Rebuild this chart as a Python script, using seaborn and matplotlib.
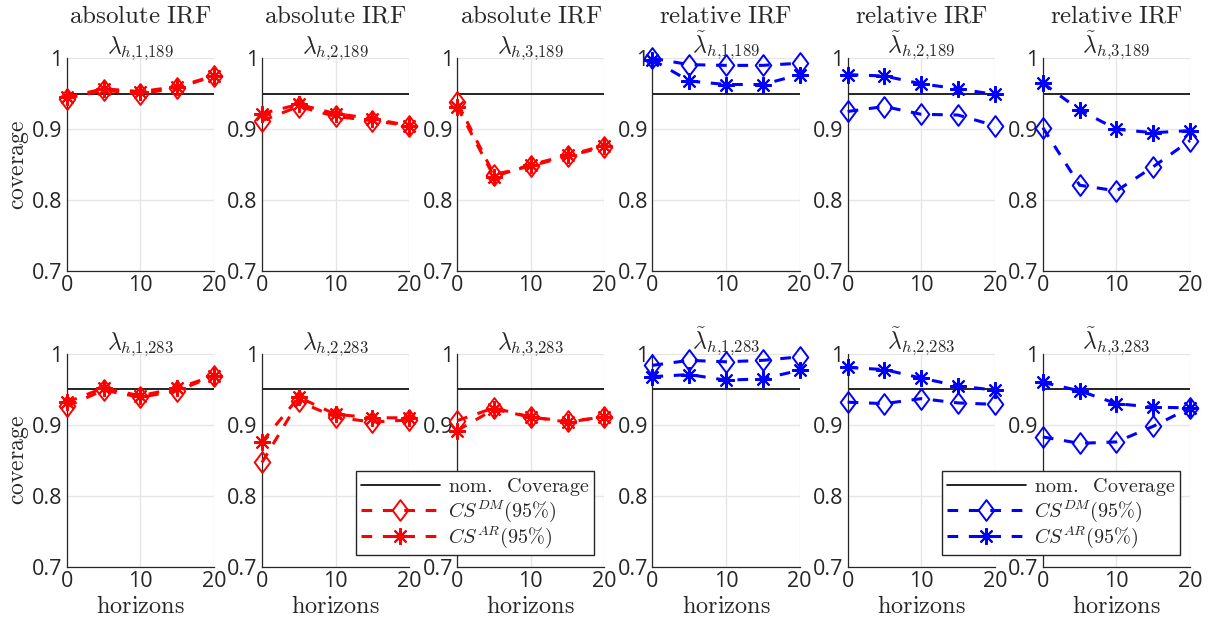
import matplotlib
matplotlib.use("Agg")
import matplotlib.pyplot as plt
from matplotlib.lines import Line2D
from matplotlib.path import Path
import seaborn as sns

# Forecast horizons and nominal coverage level
horizons = [0, 5, 10, 15, 20]
nominal = 0.95

# Coverage of the absolute IRF confidence sets, T = 189
abs_1_189_dm = [0.943, 0.955, 0.950, 0.958, 0.975]
abs_1_189_ar = [0.945, 0.957, 0.953, 0.960, 0.975]
abs_2_189_dm = [0.912, 0.932, 0.918, 0.912, 0.905]
abs_2_189_ar = [0.922, 0.935, 0.922, 0.915, 0.905]
abs_3_189_dm = [0.938, 0.836, 0.848, 0.862, 0.875]
abs_3_189_ar = [0.932, 0.833, 0.850, 0.863, 0.877]

# Coverage of the relative IRF confidence sets, T = 189
rel_1_189_dm = [1.000, 0.991, 0.990, 0.990, 0.993]
rel_1_189_ar = [0.998, 0.968, 0.963, 0.963, 0.977]
rel_2_189_dm = [0.925, 0.932, 0.921, 0.920, 0.905]
rel_2_189_ar = [0.977, 0.975, 0.964, 0.957, 0.949]
rel_3_189_dm = [0.902, 0.821, 0.813, 0.847, 0.884]
rel_3_189_ar = [0.965, 0.927, 0.900, 0.895, 0.898]

# Coverage of the absolute IRF confidence sets, T = 283
abs_1_283_dm = [0.926, 0.949, 0.939, 0.948, 0.969]
abs_1_283_ar = [0.932, 0.952, 0.941, 0.952, 0.969]
abs_2_283_dm = [0.847, 0.933, 0.911, 0.904, 0.907]
abs_2_283_ar = [0.876, 0.939, 0.915, 0.910, 0.910]
abs_3_283_dm = [0.906, 0.924, 0.911, 0.905, 0.911]
abs_3_283_ar = [0.892, 0.922, 0.911, 0.904, 0.911]

# Coverage of the relative IRF confidence sets, T = 283
rel_1_283_dm = [0.984, 0.991, 0.989, 0.991, 0.996]
rel_1_283_ar = [0.968, 0.971, 0.963, 0.965, 0.977]
rel_2_283_dm = [0.932, 0.930, 0.937, 0.931, 0.929]
rel_2_283_ar = [0.981, 0.978, 0.966, 0.955, 0.949]
rel_3_283_dm = [0.883, 0.874, 0.876, 0.898, 0.924]
rel_3_283_ar = [0.960, 0.948, 0.930, 0.925, 0.924]

row_titles = ["absolute IRF"] * 3 + ["relative IRF"] * 3
subtitles = [
    [r"$\lambda_{h{,}1{,}189}$", r"$\lambda_{h{,}2{,}189}$", r"$\lambda_{h{,}3{,}189}$",
     r"$\tilde{\lambda}_{h{,}1{,}189}$", r"$\tilde{\lambda}_{h{,}2{,}189}$",
     r"$\tilde{\lambda}_{h{,}3{,}189}$"],
    [r"$\lambda_{h{,}1{,}283}$", r"$\lambda_{h{,}2{,}283}$", r"$\lambda_{h{,}3{,}283}$",
     r"$\tilde{\lambda}_{h{,}1{,}283}$", r"$\tilde{\lambda}_{h{,}2{,}283}$",
     r"$\tilde{\lambda}_{h{,}3{,}283}$"],
]
series = [
    [(abs_1_189_dm, abs_1_189_ar), (abs_2_189_dm, abs_2_189_ar), (abs_3_189_dm, abs_3_189_ar),
     (rel_1_189_dm, rel_1_189_ar), (rel_2_189_dm, rel_2_189_ar), (rel_3_189_dm, rel_3_189_ar)],
    [(abs_1_283_dm, abs_1_283_ar), (abs_2_283_dm, abs_2_283_ar), (abs_3_283_dm, abs_3_283_ar),
     (rel_1_283_dm, rel_1_283_ar), (rel_2_283_dm, rel_2_283_ar), (rel_3_283_dm, rel_3_283_ar)],
]
legend_labels = [r"$\mathrm{nom.\ \ Coverage}$", r"$CS^{DM}(95\%)$", r"$CS^{AR}(95\%)$"]

sns.set_style("white")
plt.rcParams["font.family"] = ["Open Sans", "DejaVu Sans"]
plt.rcParams["mathtext.fontset"] = "cm"

INK = "#262626"
RED = "#ff0000"
BLUE = "#0000ff"

# tall open diamond and eight-armed asterisk markers
diamond = Path([(0, 1), (0.75, 0), (0, -1), (-0.75, 0), (0, 1)],
               [Path.MOVETO, Path.LINETO, Path.LINETO, Path.LINETO, Path.CLOSEPOLY])
asterisk = (8, 2, 0)
dash = (0, (3.5, 3.5))

dm_style = dict(marker=diamond, markersize=15, markerfacecolor="none", markeredgewidth=1.4)
ar_style = dict(marker=asterisk, markersize=12, markeredgewidth=1.5)

fig = plt.figure(figsize=(12.18, 6.24), dpi=100)
axes = fig.subplots(2, 6)
fig.subplots_adjust(left=0.0548, right=0.977, top=0.9066, bottom=0.0918,
                    wspace=0.327, hspace=0.39)

for r in range(2):
    for c in range(6):
        ax = axes[r, c]
        color = RED if c < 3 else BLUE
        dm, ar = series[r][c]
        ax.axhline(nominal, color="black", linewidth=1.2, zorder=2)
        sns.lineplot(x=horizons, y=dm, ax=ax, color=color, linewidth=2.2, linestyle=dash,
                     markeredgecolor=color, clip_on=False, estimator=None, sort=False,
                     legend=False, zorder=3, **dm_style)
        sns.lineplot(x=horizons, y=ar, ax=ax, color=color, linewidth=2.2, linestyle=dash,
                     markeredgecolor=color, clip_on=False, estimator=None, sort=False,
                     legend=False, zorder=4, **ar_style)
        ax.set_xlim(0, 20)
        ax.set_ylim(0.7, 1.0)
        ax.set_xticks([0, 10, 20])
        ax.set_yticks([0.7, 0.8, 0.9, 1.0])
        ax.set_yticklabels(["0.7", "0.8", "0.9", "1"])
        ax.grid(True, color="#e6e6e6", linewidth=1.0)
        ax.set_axisbelow(True)
        for side in ("top", "right"):
            ax.spines[side].set_visible(False)
        for side in ("left", "bottom"):
            ax.spines[side].set_color(INK)
            ax.spines[side].set_linewidth(0.9)
        ax.tick_params(direction="in", length=3, width=0.8, color=INK, labelcolor=INK,
                       labelsize=15.5, pad=3)
        ax.set_title(subtitles[r][c], fontsize=17, color=INK, pad=4)
        if r == 0:
            ax.annotate(r"$\mathrm{" + row_titles[c].replace(" ", r"\ ") + "}$",
                        xy=(0.5, 1.0), xycoords="axes fraction",
                        xytext=(0, 26), textcoords="offset points",
                        ha="center", va="baseline", fontsize=18, color=INK)
        if c == 0:
            ax.set_ylabel(r"$\mathrm{coverage}$", fontsize=17, color=INK, labelpad=1)
        else:
            ax.set_ylabel("")
        if r == 1:
            ax.set_xlabel(r"$\mathrm{horizons}$", fontsize=17.5, color=INK, labelpad=2)
        else:
            ax.set_xlabel("")

# legends drawn over the neighbouring panels
for color, anchor_x in ((RED, 594 / 1218), (BLUE, 1180 / 1218)):
    handles = [
        Line2D([], [], color="black", linewidth=1.2),
        Line2D([], [], color=color, linewidth=2.2, linestyle=dash,
               markeredgecolor=color, **dm_style),
        Line2D([], [], color=color, linewidth=2.2, linestyle=dash,
               markeredgecolor=color, **ar_style),
    ]
    leg = fig.legend(handles, legend_labels, loc="lower right",
                     bbox_to_anchor=(anchor_x, 1 - 555 / 624),
                     bbox_transform=fig.transFigure, fontsize=14.5, numpoints=1,
                     handlelength=3.9, handletextpad=0.4, labelspacing=0.02,
                     borderpad=0.25, borderaxespad=0, frameon=True, fancybox=False,
                     framealpha=1, edgecolor=INK, labelcolor=INK)
    leg.get_frame().set_linewidth(1.0)
    leg.set_zorder(10)

fig.savefig("out.png", dpi=100)
